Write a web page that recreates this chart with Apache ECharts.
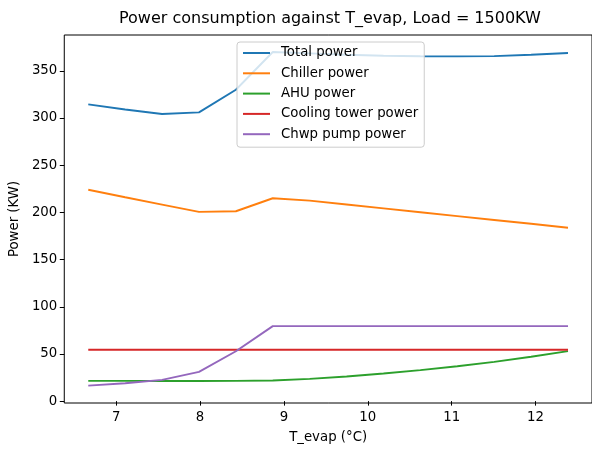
<!DOCTYPE html>
<html>
<head>
<meta charset="utf-8">
<script src="https://cdn.jsdelivr.net/npm/echarts@6/dist/echarts.min.js"></script>
<style>html,body{margin:0;padding:0;background:#fff}#c{width:592px;height:449px}</style>
</head>
<body>
<div id="c"></div>
<script>
const tEvap = [6.667, 7.107, 7.547, 7.987, 8.427, 8.867, 9.307, 9.747, 10.187, 10.627, 11.067, 11.507, 11.947, 12.387];
const totalPower   = [314.5, 309.0, 304.3, 306.0, 330.0, 370.0, 368.5, 367.0, 366.0, 365.5, 365.3, 365.6, 367.0, 369.0];
const chillerPower = [224.0, 216.0, 208.3, 200.6, 201.2, 215.0, 212.5, 208.4, 204.3, 200.2, 196.1, 192.0, 187.9, 183.8];
const ahuPower     = [21.4, 21.4, 21.3, 21.3, 21.4, 21.8, 23.6, 26.1, 29.2, 32.8, 37.0, 41.6, 47.0, 53.0];
const coolingTowerPower = [54.5, 54.5, 54.5, 54.5, 54.5, 54.5, 54.5, 54.5, 54.5, 54.5, 54.5, 54.5, 54.5, 54.5];
const chwpPumpPower = [16.4, 19.0, 22.5, 31.0, 52.8, 79.5, 79.5, 79.5, 79.5, 79.5, 79.5, 79.5, 79.5, 79.5];
const seriesNames = ['Total power', 'Chiller power', 'AHU power', 'Cooling tower power', 'Chwp pump power'];
const xTicks = [7, 8, 9, 10, 11, 12];
const yTicks = [0, 50, 100, 150, 200, 250, 300, 350];

const colors = ['#1f77b4', '#ff7f0e', '#2ca02c', '#d62728', '#9467bd'];
const allSeries = [totalPower, chillerPower, ahuPower, coolingTowerPower, chwpPumpPower];
const font = 'DejaVu Sans';
const fs = 13.3;

const chart = echarts.init(document.getElementById('c'), null, {renderer: 'canvas'});
chart.setOption({
  animation: false,
  backgroundColor: '#fff',
  color: colors,
  title: {
    text: 'Power consumption against T_evap, Load = 1500KW',
    left: 119, top: 11, padding: 0,
    textStyle: {fontFamily: font, fontSize: 16, fontWeight: 'normal', color: '#000'}
  },
  legend: {
    orient: 'vertical', left: 237, top: 42,
    padding: [4, 6, 6, 6], itemGap: 6.3,
    itemWidth: 27, itemHeight: 2, icon: 'rect',
    backgroundColor: 'rgba(255,255,255,0.8)', borderColor: '#cccccc', borderWidth: 1, borderRadius: 3,
    textStyle: {fontFamily: font, fontSize: fs, color: '#000', lineHeight: 14, padding: [0, 0, 0, 6]},
    data: seriesNames
  },
  grid: {left: 62, top: 35, width: 538.6, height: 372, show: true, borderColor: '#000', borderWidth: 1, containLabel: false},
  xAxis: {
    type: 'value', min: 6.381, max: 12.673,
    name: 'T_evap (°C)', nameLocation: 'middle', nameGap: 28,
    nameTextStyle: {fontFamily: font, fontSize: fs, color: '#000'},
    axisLine: {show: false},
    axisTick: {show: true, length: 4.5, lineStyle: {color: '#000'}, customValues: xTicks},
    axisLabel: {fontFamily: font, fontSize: fs, color: '#000', margin: 8, customValues: xTicks},
    splitLine: {show: false}
  },
  yAxis: {
    type: 'value', min: -2, max: 388,
    name: 'Power (KW)', nameLocation: 'middle', nameGap: 42,
    nameTextStyle: {fontFamily: font, fontSize: fs, color: '#000'},
    axisLine: {show: false},
    axisTick: {show: true, length: 4.5, lineStyle: {color: '#000'}, customValues: yTicks},
    axisLabel: {fontFamily: font, fontSize: fs, color: '#000', margin: 7, customValues: yTicks},
    splitLine: {show: false}
  },
  series: seriesNames.map((n, i) => ({
    name: n, type: 'line', showSymbol: false, symbol: 'none',
    lineStyle: {width: 1.9, color: colors[i]},
    itemStyle: {color: colors[i]},
    data: tEvap.map((x, j) => [x, allSeries[i][j]])
  }))
});
</script>
</body>
</html>
